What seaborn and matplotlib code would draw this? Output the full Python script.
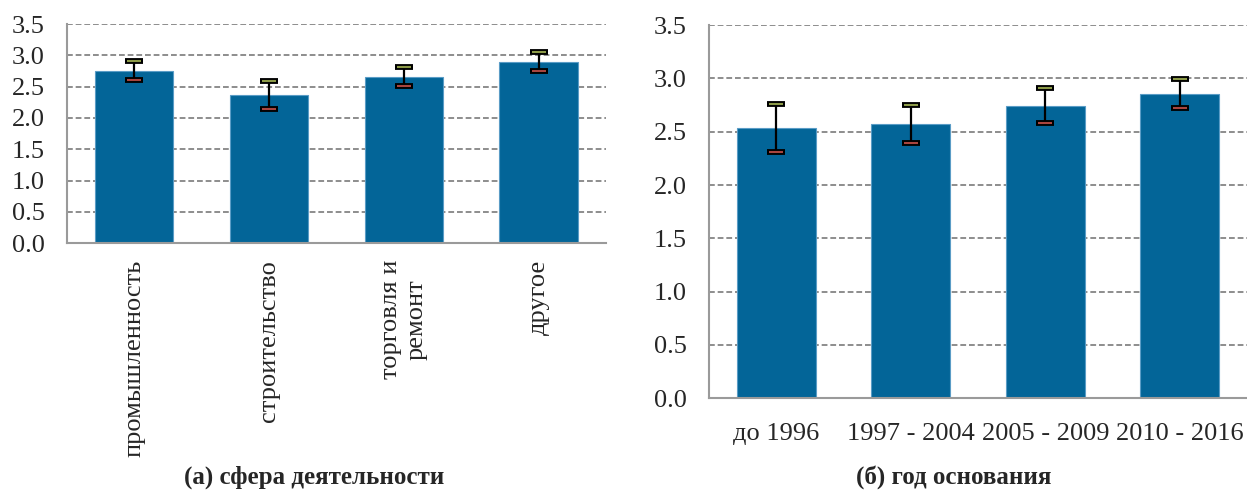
import matplotlib
matplotlib.use("Agg")

import matplotlib.pyplot as plt
import numpy as np
import pandas as pd
import seaborn as sns

# ---------------------------------------------------------------------------
# DATA
# ---------------------------------------------------------------------------
sector_labels = ["промышленность", "строительство", "торговля и\nремонт", "другое"]
sector_mean = [2.75, 2.36, 2.65, 2.90]
sector_low = [2.61, 2.14, 2.51, 2.75]
sector_high = [2.91, 2.59, 2.81, 3.05]

year_labels = ["до 1996", "1997 - 2004", "2005 - 2009", "2010 - 2016"]
year_mean = [2.53, 2.57, 2.74, 2.85]
year_low = [2.31, 2.39, 2.58, 2.72]
year_high = [2.76, 2.75, 2.91, 2.99]

y_ticks = [0.0, 0.5, 1.0, 1.5, 2.0, 2.5, 3.0, 3.5]

# ---------------------------------------------------------------------------
# STYLE
# ---------------------------------------------------------------------------
BAR_COLOR = "#036598"
BAR_EDGE = "#5a9cc6"
AXIS_GRAY = "#9a9a9a"
GRID_GRAY = "#858585"
CAP_TOP = "#8c9a48"
CAP_BOTTOM = "#a8453f"
FONT_SIZE = 19

sns.set_style("white")
plt.rcParams["font.family"] = ["Liberation Serif", "DejaVu Serif"]


def draw_panel(ax, labels, mean, low, high, bar_width):
    df = pd.DataFrame({"cat": labels, "val": mean})
    sns.barplot(data=df, x="cat", y="val", color=BAR_COLOR, width=bar_width,
                edgecolor=BAR_EDGE, linewidth=0.8, saturation=1, ax=ax, zorder=2)

    pos = np.arange(len(labels))
    mean = np.array(mean)
    yerr = [mean - np.array(low), np.array(high) - mean]
    ax.errorbar(pos, mean, yerr=yerr, fmt="none", ecolor="black",
                elinewidth=1.6, capsize=6.6, capthick=4.2, zorder=4)
    # coloured fill inside the caps
    ax.plot(pos, high, linestyle="none", marker="_", markersize=10.5,
            markeredgewidth=1.5, color=CAP_TOP, zorder=5)
    ax.plot(pos, low, linestyle="none", marker="_", markersize=10.5,
            markeredgewidth=1.5, color=CAP_BOTTOM, zorder=5)

    ax.set_xlim(-0.5, len(labels) - 0.5)
    ax.set_ylim(0, 3.5)
    ax.set_yticks(y_ticks)
    ax.set_yticklabels([f"{t:.1f}" for t in y_ticks], fontsize=FONT_SIZE)
    ax.set_xlabel("")
    ax.set_ylabel("")

    # dashed horizontal grid
    ax.yaxis.grid(True, linestyle=(0, (3.2, 1.6)), color=GRID_GRAY, linewidth=1.3, zorder=0)
    ax.xaxis.grid(False)
    ax.set_axisbelow(True)

    for side in ["top", "right"]:
        ax.spines[side].set_visible(False)
    for side in ["left", "bottom"]:
        ax.spines[side].set_color(AXIS_GRAY)
        ax.spines[side].set_linewidth(1.5)

    # tick marks at category boundaries, labels at centres
    ax.set_xticks(np.arange(-0.5, len(labels)), minor=True)
    ax.tick_params(axis="x", which="minor", length=6, width=1.5, color=AXIS_GRAY,
                   direction="out")
    ax.tick_params(axis="x", which="major", length=0)
    ax.tick_params(axis="y", which="major", length=6, width=1.5, color=AXIS_GRAY,
                   direction="out", pad=10)


fig = plt.figure(figsize=(12.47, 4.92), dpi=100)

# (a) sector of activity
ax1 = fig.add_axes([0.0537, 0.5055, 0.4322, 0.4457])
draw_panel(ax1, sector_labels, sector_mean, sector_low, sector_high, 0.58)
ax1.set_xticks(np.arange(len(sector_labels)))
ax1.set_xticklabels(sector_labels, rotation=90, ha="center", va="top",
                    multialignment="center", fontsize=FONT_SIZE)
ax1.tick_params(axis="x", which="major", pad=12)

# (b) year of foundation
ax2 = fig.add_axes([0.5686, 0.1904, 0.4314, 0.7587])
draw_panel(ax2, year_labels, year_mean, year_low, year_high, 0.59)
ax2.set_xticks(np.arange(len(year_labels)))
ax2.set_xticklabels(year_labels, fontsize=FONT_SIZE)
ax2.tick_params(axis="x", which="major", pad=18)

fig.text(314 / 1247, 1 - 477 / 492, "(а) сфера деятельности", ha="center",
         va="center", fontsize=18, fontweight="bold")
fig.text(954 / 1247, 1 - 477 / 492, "(б) год основания", ha="center",
         va="center", fontsize=18, fontweight="bold")

fig.savefig("out.png", dpi=100)
plt.close(fig)
